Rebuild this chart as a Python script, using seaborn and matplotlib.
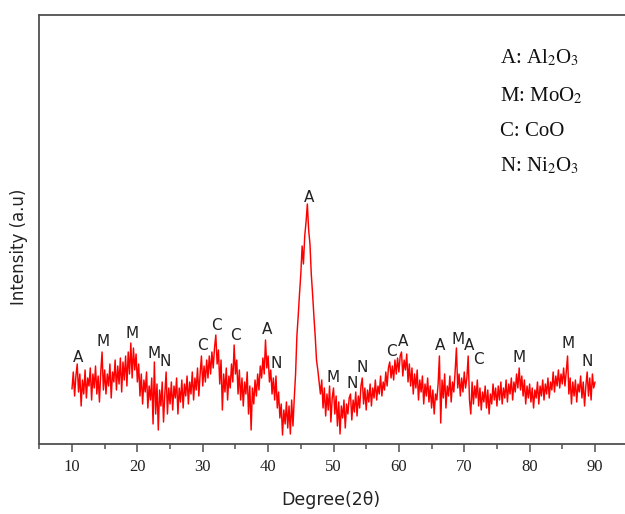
import numpy as np
import pandas as pd
import seaborn as sns
import matplotlib
matplotlib.use("Agg")
import matplotlib.pyplot as plt
from matplotlib.ticker import MultipleLocator, NullLocator

# ---------------- data ----------------
SCAN_START, SCAN_END = 10.0, 90.0   # 2-theta scan range, 0.2 deg steps

intensity = [
    # 10.0 - 14.8
    55, 72, 48, 68, 80, 52, 70, 38, 64, 50, 74, 46, 66, 58, 76, 44, 70, 56, 78, 50, 68, 42, 72, 92, 54,
    # 15.0 - 19.8
    74, 50, 70, 58, 80, 46, 72, 62, 84, 54, 78, 60, 86, 52, 82, 64, 88, 58, 92, 70, 101, 66, 96, 74, 90,
    # 20.0 - 24.8
    62, 80, 48, 70, 40, 64, 52, 72, 36, 58, 44, 66, 20, 82, 30, 60, 14, 54, 38, 62, 22, 50, 72, 30, 56,
    # 25.0 - 29.8
    40, 62, 34, 58, 46, 66, 30, 56, 42, 64, 36, 60, 48, 68, 40, 62, 50, 72, 44, 66, 54, 76, 48, 70, 88,
    # 30.0 - 34.8
    58, 78, 62, 84, 66, 88, 70, 92, 76, 96, 109, 80, 94, 60, 84, 34, 70, 52, 76, 44, 68, 56, 80, 62, 99,
    # 35.0 - 39.8
    70, 84, 50, 74, 44, 66, 38, 62, 50, 72, 30, 58, 14, 56, 40, 64, 48, 70, 54, 78, 66, 86, 70, 104, 76,
    # 40.0 - 44.8
    88, 62, 74, 50, 66, 44, 68, 36, 52, 26, 40, 9, 34, 20, 42, 16, 38, 10, 44, 18, 46, 70, 108, 128, 150,
    # 45.0 - 49.8
    170, 198, 180, 208, 222, 240, 214, 200, 170, 150, 128, 108, 84, 74, 62, 50, 64, 36, 56, 28, 50, 34, 58, 22, 46,
    # 50.0 - 54.8
    56, 30, 48, 18, 42, 10, 38, 26, 44, 16, 40, 30, 46, 50, 24, 44, 32, 52, 28, 48, 36, 58, 66, 40, 56,
    # 55.0 - 59.8
    34, 54, 42, 60, 38, 56, 46, 64, 44, 58, 50, 68, 48, 62, 54, 72, 58, 76, 82, 66, 78, 64, 84, 70, 86,
    # 60.0 - 64.8
    72, 88, 92, 68, 84, 74, 90, 62, 80, 58, 76, 50, 70, 56, 74, 44, 64, 52, 68, 40, 60, 48, 66, 42, 58,
    # 65.0 - 69.8
    36, 54, 30, 50, 44, 60, 88, 21, 64, 46, 70, 36, 58, 48, 68, 42, 62, 52, 72, 96, 56, 70, 48, 66, 52,
    # 70.0 - 74.8
    72, 56, 66, 88, 44, 30, 62, 40, 58, 46, 64, 38, 56, 34, 52, 42, 58, 36, 54, 30, 50, 40, 60, 44, 56,
    # 75.0 - 79.8
    38, 58, 44, 62, 40, 56, 46, 64, 42, 60, 50, 66, 44, 62, 52, 70, 56, 76, 54, 68, 48, 64, 40, 58, 46,
    # 80.0 - 84.8
    60, 42, 56, 36, 54, 46, 62, 40, 58, 48, 64, 44, 60, 50, 66, 46, 62, 54, 72, 52, 68, 58, 74, 56, 70,
    # 85.0 - 90.0
    60, 76, 58, 72, 88, 50, 66, 40, 62, 48, 64, 42, 60, 52, 68, 46, 62, 38, 58, 72, 48, 66, 44, 70, 56, 62,
]
two_theta = np.linspace(SCAN_START, SCAN_END, len(intensity))

peak_letters = ["A", "M", "M", "M", "N", "C", "C", "C", "A", "N", "A", "M",
                "N", "N", "C", "A", "A", "M", "A", "C", "M", "M", "N"]
peak_x = [10.95, 14.7, 19.15, 22.55, 24.25, 29.9, 32.15, 34.95, 39.8, 41.25, 46.2, 49.95,
          52.85, 54.35, 58.8, 60.65, 66.35, 69.0, 70.7, 72.1, 78.35, 85.9, 88.8]
peak_y = [86, 102, 111, 91, 82, 99, 118, 108, 114, 80, 246, 66,
          60, 77, 92, 102, 98, 104, 99, 84, 87, 101, 82]

legend_lines = [r"A: Al$_\mathrm{2}$O$_\mathrm{3}$",
                r"M: MoO$_\mathrm{2}$",
                "C: CoO",
                r"N: Ni$_\mathrm{2}$O$_\mathrm{3}$"]

x_ticks = [10, 20, 30, 40, 50, 60, 70, 80, 90]
x_label = "Degree(2θ)"
y_label = "Intensity (a.u)"

# ---------------- plotting ----------------
sns.set_style("white")
plt.rcParams["font.family"] = ["DejaVu Sans"]
plt.rcParams["mathtext.fontset"] = "stix"

W, H = 625, 514
fig = plt.figure(figsize=(W / 100, H / 100), dpi=100)
left_px, right_px, top_px, bottom_px = 39.3, 627.7, 15, 444
ax = fig.add_axes([left_px / W, (H - bottom_px) / H,
                   (right_px - left_px) / W, (bottom_px - top_px) / H])

df = pd.DataFrame({"two_theta": two_theta, "intensity": intensity})
sns.lineplot(data=df, x="two_theta", y="intensity", color="#ff0000",
             linewidth=1.05, ax=ax)

ax.set_xlim(5, 95)
ax.set_ylim(0, 429)

spine_col = "#505050"
for s in ["left", "bottom", "top"]:
    ax.spines[s].set_color(spine_col)
    ax.spines[s].set_linewidth(1.3)
ax.spines["right"].set_visible(False)

ax.set_xticks(x_ticks)
ax.xaxis.set_minor_locator(MultipleLocator(5))
ax.yaxis.set_major_locator(NullLocator())
ax.tick_params(axis="x", which="major", bottom=True, direction="out",
               length=6, width=1.1, color=spine_col, pad=5)
ax.tick_params(axis="x", which="minor", bottom=True, direction="out",
               length=3.5, width=1.1, color=spine_col)
for lab in ax.get_xticklabels():
    lab.set_fontfamily("Liberation Serif")
    lab.set_fontsize(12)
    lab.set_color("#222222")

ax.set_xlabel(x_label, fontsize=12.5, color="#222222")
ax.set_ylabel(y_label, fontsize=12, color="#222222")
ax.xaxis.set_label_coords((331 - left_px) / (right_px - left_px), (bottom_px - 491) / (bottom_px - top_px))
ax.yaxis.set_label_coords((28 - left_px) / (right_px - left_px), (bottom_px - 247) / (bottom_px - top_px))

for letter, px, py in zip(peak_letters, peak_x, peak_y):
    ax.text(px, py, letter, ha="center", va="center", fontsize=11, color="#222222")

legend_y_px = [58, 96, 131, 166]
for txt, ypx in zip(legend_lines, legend_y_px):
    ax.text((500 - left_px) / (right_px - left_px), (bottom_px - ypx) / (bottom_px - top_px),
            txt, transform=ax.transAxes, ha="left", va="center",
            fontsize=15, fontfamily="Liberation Serif", color="#111111")

fig.savefig("out.png", dpi=100)
